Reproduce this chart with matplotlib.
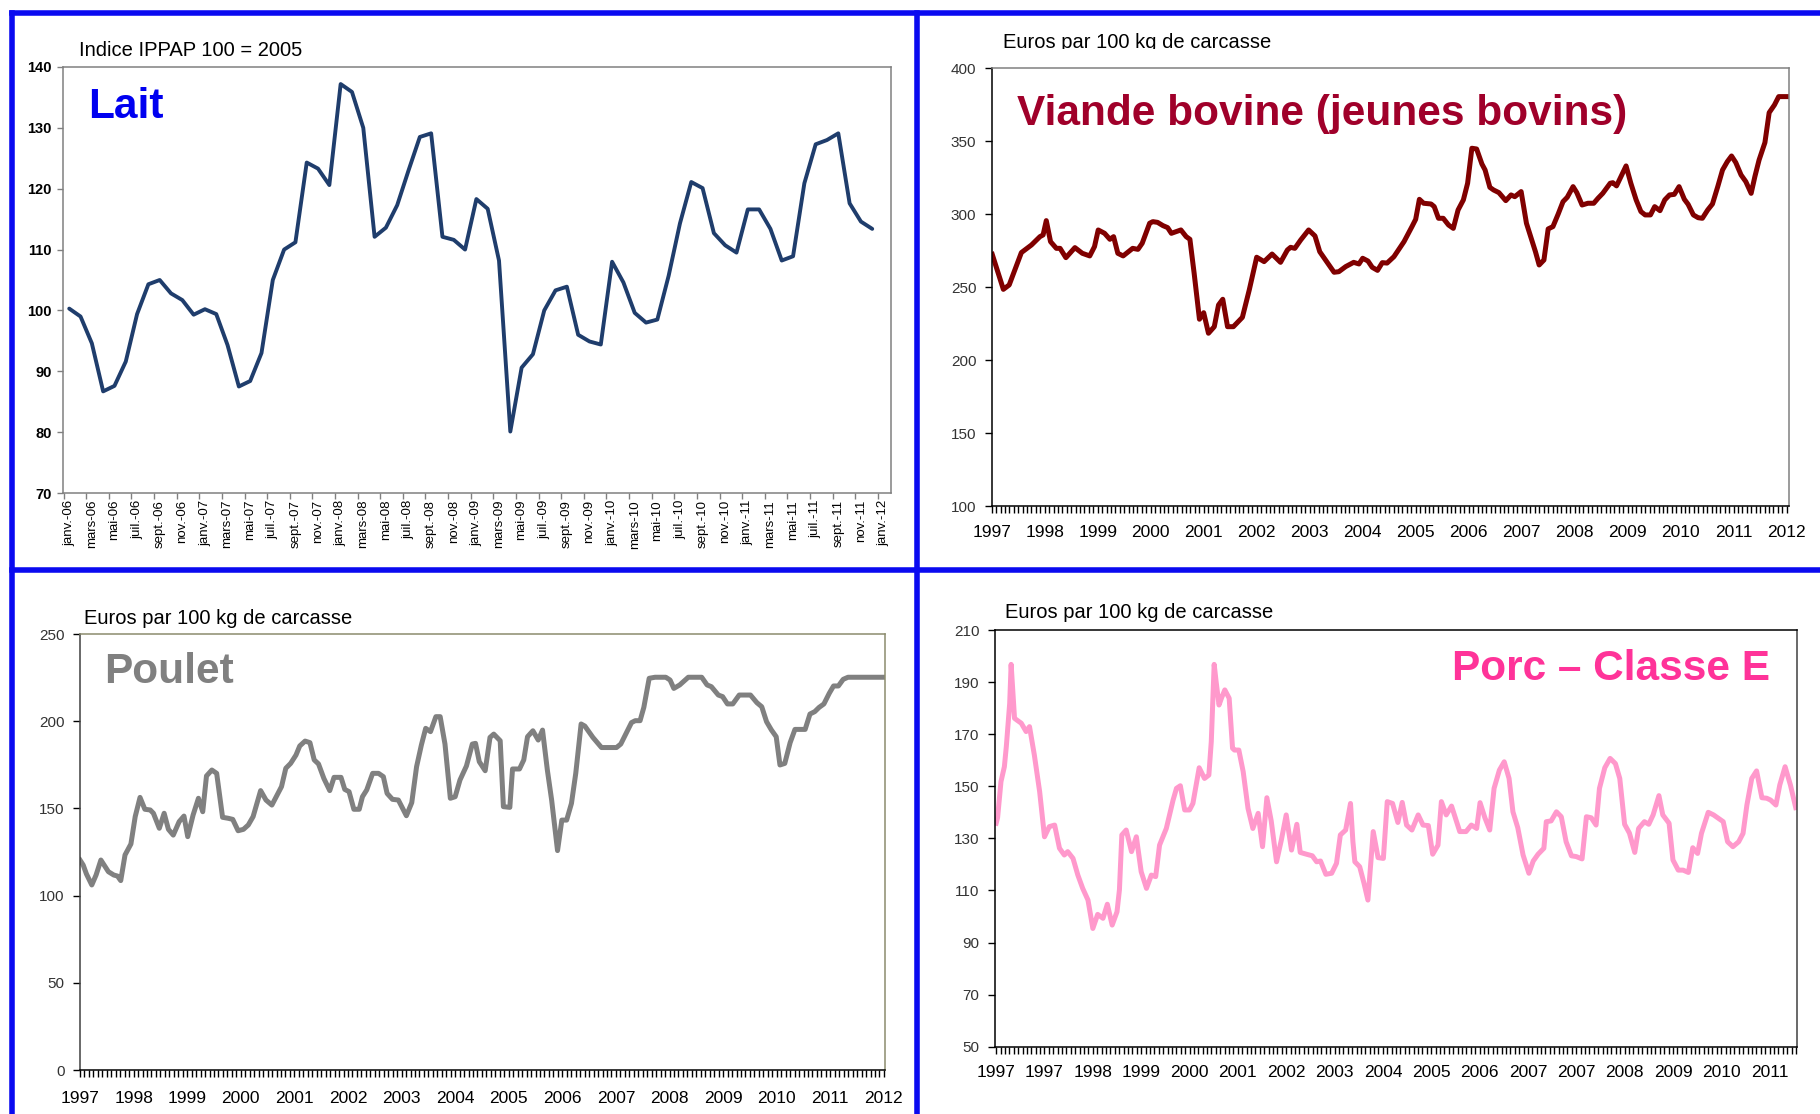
import numpy as np
import matplotlib
matplotlib.use("Agg")
import matplotlib.pyplot as plt
from matplotlib.ticker import MultipleLocator
from matplotlib.lines import Line2D
from matplotlib.patches import Rectangle

plt.rcParams['font.family'] = ['Liberation Sans', 'DejaVu Sans']

# ---- data ----
# Lait: monthly IPPAP index, janv. 2006 -> dec. 2011
lait = [100.3, 99.0, 94.6, 86.7, 87.6, 91.6, 99.4, 104.3, 105.0, 102.8, 101.7, 99.3,
        100.2, 99.4, 94.3, 87.5, 88.4, 93.0, 105.0, 110.0, 111.2, 124.3, 123.3, 120.6,
        137.2, 135.9, 130.0, 112.1, 113.6, 117.3, 123.0, 128.5, 129.1, 112.1, 111.6, 110.0,
        118.3, 116.7, 108.2, 80.1, 90.6, 92.8, 100.0, 103.3, 103.9, 96.0, 94.9, 94.4,
        108.0, 104.6, 99.6, 98.0, 98.5, 105.7, 114.3, 121.1, 120.1, 112.7, 110.7, 109.5,
        116.6, 116.6, 113.4, 108.2, 108.9, 120.9, 127.3, 128.0, 129.1, 117.6, 114.6, 113.4]
lait_months = ["janv.", "mars", "mai", "juil.", "sept.", "nov."]
lait_years = ["06", "07", "08", "09", "10", "11"]

# Viande bovine: years since 1997 / euros
viande_t = [0.01, 0.22, 0.33, 0.56, 0.69, 0.75, 0.91, 0.97, 1.03, 1.11, 1.22, 1.29, 1.40, 1.57,
            1.71, 1.85, 1.94, 2.01, 2.13, 2.23, 2.30, 2.38, 2.48, 2.66, 2.76, 2.84, 2.98, 3.04,
            3.13, 3.23, 3.32, 3.39, 3.57, 3.67, 3.74, 3.82, 3.92, 4.00, 4.09, 4.20, 4.28, 4.36,
            4.45, 4.56, 4.73, 4.86, 5.00, 5.14, 5.29, 5.45, 5.58, 5.64, 5.72, 5.83, 5.98, 6.10,
            6.19, 6.30, 6.46, 6.55, 6.68, 6.83, 6.93, 7.00, 7.10, 7.18, 7.28, 7.37, 7.46, 7.59,
            7.78, 7.93, 8.00, 8.07, 8.15, 8.29, 8.35, 8.43, 8.52, 8.62, 8.71, 8.80, 8.90, 8.98,
            9.06, 9.15, 9.25, 9.31, 9.40, 9.47, 9.57, 9.70, 9.80, 9.87, 9.99, 10.09, 10.20,
            10.26, 10.33, 10.42, 10.50, 10.59, 10.69, 10.78, 10.86, 10.97, 11.04, 11.14, 11.25,
            11.36, 11.44, 11.53, 11.67, 11.72, 11.79, 11.97, 12.06, 12.16, 12.25, 12.33, 12.43,
            12.51, 12.61, 12.70, 12.79, 12.88, 12.97, 13.07, 13.14, 13.24, 13.33, 13.41, 13.51,
            13.60, 13.70, 13.79, 13.88, 13.96, 14.04, 14.14, 14.23, 14.33, 14.40, 14.48, 14.59,
            14.67, 14.77, 14.85, 15.00]
viande_v = [272.5, 248.5, 251.5, 273.7, 277.3, 278.9, 284.6, 285.8, 295.6, 281.2, 276.6, 276.6,
            270.2, 277.1, 273.2, 271.4, 277.8, 289.2, 286.9, 282.8, 284.6, 273.2, 271.4, 276.6,
            275.9, 280.1, 293.8, 294.9, 294.4, 292.2, 290.8, 286.9, 289.2, 284.6, 282.8, 259.5,
            228.0, 232.5, 218.4, 222.9, 237.8, 241.7, 222.9, 222.9, 229.3, 248.1, 270.5, 267.5,
            272.7, 267.0, 275.5, 277.3, 276.6, 282.3, 289.2, 285.1, 274.3, 268.6, 260.2, 260.6,
            264.1, 267.0, 265.9, 269.8, 267.9, 263.6, 261.5, 266.8, 266.5, 270.9, 281.2, 291.5,
            296.5, 310.2, 307.5, 307.0, 305.2, 297.2, 297.2, 292.6, 290.3, 302.9, 309.8, 321.2,
            345.2, 344.7, 334.4, 330.3, 318.4, 316.6, 314.8, 309.3, 313.2, 312.0, 315.5, 293.8,
            281.2, 274.3, 265.2, 268.6, 289.9, 291.5, 300.2, 308.6, 311.6, 318.9, 314.8, 306.3,
            307.5, 307.5, 310.9, 314.3, 321.2, 321.6, 319.4, 333.1, 321.2, 309.8, 301.8, 299.5,
            299.5, 305.2, 302.4, 309.8, 313.2, 313.6, 318.9, 310.2, 306.8, 299.5, 297.6, 297.2,
            302.9, 307.0, 318.9, 330.3, 336.0, 339.9, 335.4, 326.9, 322.3, 314.3, 325.7, 337.2,
            349.1, 369.6, 374.9, 380.6, 380.6]

# Poulet: years since 1997 / euros
poulet_t = [0.00, 0.06, 0.12, 0.22, 0.30, 0.39, 0.47, 0.53, 0.63, 0.70, 0.76, 0.84, 0.95, 1.03,
            1.12, 1.21, 1.31, 1.37, 1.48, 1.57, 1.65, 1.74, 1.85, 1.94, 2.01, 2.11, 2.21, 2.29,
            2.36, 2.46, 2.55, 2.66, 2.77, 2.85, 2.95, 3.05, 3.14, 3.23, 3.37, 3.47, 3.58, 3.70,
            3.76, 3.84, 3.93, 4.03, 4.10, 4.20, 4.29, 4.37, 4.45, 4.55, 4.66, 4.74, 4.87, 4.94,
            5.02, 5.11, 5.21, 5.27, 5.35, 5.46, 5.57, 5.66, 5.73, 5.83, 5.94, 6.09, 6.19, 6.28,
            6.37, 6.45, 6.54, 6.64, 6.72, 6.81, 6.91, 7.00, 7.09, 7.21, 7.32, 7.38, 7.45, 7.56,
            7.65, 7.72, 7.84, 7.90, 8.02, 8.07, 8.20, 8.28, 8.35, 8.45, 8.55, 8.63, 8.72, 8.80,
            8.91, 8.99, 9.08, 9.17, 9.25, 9.35, 9.42, 9.57, 9.73, 10.01, 10.09, 10.19, 10.29,
            10.36, 10.45, 10.52, 10.62, 10.73, 10.93, 11.01, 11.08, 11.19, 11.35, 11.60, 11.70,
            11.78, 11.91, 11.99, 12.08, 12.18, 12.30, 12.51, 12.63, 12.72, 12.81, 12.90, 12.99,
            13.06, 13.15, 13.25, 13.34, 13.53, 13.62, 13.71, 13.79, 13.88, 13.98, 14.06, 14.15,
            14.24, 14.33, 15.00]
poulet_v = [120.4, 117.5, 112.4, 106.1, 111.8, 120.4, 116.6, 113.7, 111.8, 111.2, 108.6, 123.3,
            129.6, 145.3, 156.3, 149.5, 149.1, 147.2, 138.6, 147.2, 138.0, 134.7, 142.4, 145.6,
            133.8, 146.2, 155.8, 148.1, 168.6, 172.0, 170.1, 144.9, 144.3, 143.7, 137.2, 138.0,
            140.5, 145.3, 160.2, 154.8, 151.9, 159.0, 162.5, 173.0, 175.8, 180.6, 185.8, 188.6,
            187.7, 177.8, 175.5, 167.2, 160.2, 167.8, 167.8, 160.9, 159.6, 149.5, 149.5, 156.7,
            160.6, 170.1, 170.1, 168.2, 158.6, 155.2, 154.8, 145.8, 153.3, 173.9, 186.4, 195.9,
            194.0, 202.6, 202.6, 186.9, 155.8, 156.7, 166.3, 174.3, 186.9, 187.3, 176.8, 171.6,
            190.7, 192.6, 188.8, 151.0, 150.6, 172.6, 172.6, 177.8, 191.1, 194.5, 189.2, 194.9,
            172.0, 154.8, 125.8, 143.3, 143.3, 152.9, 170.1, 198.4, 197.2, 190.7, 184.9, 184.9,
            186.9, 193.0, 199.2, 200.3, 200.3, 207.9, 224.6, 225.2, 225.2, 223.6, 218.8, 220.8,
            225.2, 225.2, 220.8, 219.8, 215.0, 214.1, 209.9, 209.9, 215.0, 215.0, 210.6, 208.3,
            199.7, 195.0, 191.1, 174.9, 175.8, 187.7, 195.3, 195.3, 204.1, 205.5, 207.9, 209.9,
            216.0, 220.2, 220.2, 224.0, 225.2, 225.2]

# Porc: position in label intervals / euros
porc_t = [0.00, 0.03, 0.10, 0.17, 0.21, 0.28, 0.31, 0.35, 0.38, 0.43, 0.52, 0.62, 0.69, 0.79,
          0.90, 1.00, 1.10, 1.21, 1.31, 1.41, 1.48, 1.59, 1.69, 1.79, 1.90, 2.00, 2.10, 2.21,
          2.30, 2.40, 2.50, 2.55, 2.60, 2.69, 2.80, 2.90, 3.00, 3.11, 3.21, 3.30, 3.38, 3.52,
          3.66, 3.73, 3.81, 3.90, 4.00, 4.07, 4.20, 4.31, 4.40, 4.45, 4.51, 4.55, 4.61, 4.66,
          4.73, 4.82, 4.89, 4.93, 5.02, 5.11, 5.21, 5.31, 5.42, 5.51, 5.60, 5.69, 5.80, 5.90,
          6.00, 6.11, 6.22, 6.29, 6.42, 6.54, 6.63, 6.71, 6.82, 6.94, 7.04, 7.12, 7.23, 7.33,
          7.38, 7.42, 7.52, 7.61, 7.69, 7.80, 7.90, 8.01, 8.09, 8.20, 8.31, 8.40, 8.49, 8.60,
          8.73, 8.83, 8.94, 9.03, 9.14, 9.21, 9.31, 9.42, 9.59, 9.72, 9.83, 9.94, 10.01, 10.11,
          10.21, 10.30, 10.41, 10.51, 10.61, 10.69, 10.79, 10.90, 11.02, 11.11, 11.21, 11.33,
          11.38, 11.48, 11.59, 11.69, 11.79, 11.90, 12.00, 12.12, 12.21, 12.31, 12.41, 12.48,
          12.59, 12.70, 12.81, 12.90, 13.00, 13.10, 13.21, 13.29, 13.41, 13.50, 13.59, 13.71,
          13.79, 13.92, 14.00, 14.11, 14.21, 14.32, 14.41, 14.51, 14.59, 14.73, 14.84, 15.04,
          15.13, 15.24, 15.36, 15.45, 15.53, 15.63, 15.73, 15.84, 15.94, 16.02, 16.13, 16.21,
          16.32, 16.43, 16.54]
porc_v = [135.8, 138.0, 151.8, 157.5, 165.2, 181.8, 196.8, 185.0, 176.1, 175.4, 174.2, 171.0,
          172.9, 162.0, 147.9, 130.6, 134.5, 135.1, 126.2, 123.6, 124.9, 122.3, 115.9, 110.8,
          106.3, 95.4, 100.8, 99.3, 104.7, 96.7, 101.8, 110.2, 131.3, 133.2, 124.9, 130.6,
          117.2, 110.8, 115.9, 115.3, 127.4, 133.8, 144.7, 149.2, 150.2, 140.9, 140.9, 143.4,
          157.1, 153.0, 154.3, 167.1, 196.8, 190.2, 181.2, 183.8, 187.0, 183.8, 164.6, 163.9,
          163.9, 155.6, 141.5, 133.8, 139.6, 126.8, 145.6, 136.7, 121.0, 129.4, 139.0, 125.5,
          135.4, 124.6, 123.9, 123.3, 121.0, 121.3, 116.2, 116.6, 120.4, 131.3, 133.2, 143.4,
          128.7, 121.0, 119.1, 112.7, 106.3, 132.6, 122.6, 122.3, 144.1, 143.4, 136.1, 143.8,
          135.1, 133.2, 139.0, 135.1, 134.9, 123.9, 127.4, 144.1, 139.0, 142.4, 132.6, 132.6,
          135.1, 133.8, 143.7, 137.9, 133.2, 149.2, 156.2, 159.4, 153.0, 140.2, 134.1, 123.6,
          116.6, 121.3, 123.9, 126.2, 136.4, 136.7, 140.2, 138.3, 128.7, 123.3, 123.0, 122.1,
          138.3, 137.9, 135.1, 149.2, 157.1, 160.7, 158.7, 153.0, 135.4, 132.0, 124.6, 133.8,
          136.4, 135.4, 139.0, 146.4, 139.0, 135.8, 121.7, 117.8, 117.8, 116.9, 126.4, 124.2,
          131.9, 140.0, 139.0, 136.4, 128.7, 126.8, 128.7, 131.9, 142.8, 153.0, 155.9, 145.6,
          145.4, 144.7, 142.8, 150.5, 157.5, 150.5, 141.8]

year_labels = [str(y) for y in range(1997, 2013)]
porc_labels = ["1997", "1997", "1998", "1999", "2000", "2001", "2002", "2003", "2004",
               "2005", "2006", "2007", "2007", "2008", "2009", "2010", "2011"]

W, H = 1820, 1114
fig = plt.figure(figsize=(W / 100, H / 100), dpi=100)
fig.patch.set_facecolor('white')


def box(l, t, r, b):
    return [l / W, 1 - b / H, (r - l) / W, (b - t) / H]


def ftext(x, y, s, **kw):
    fig.text(x / W, 1 - y / H, s, va='baseline', ha='left', **kw)


def style_spines(ax, colors):
    for side, c in zip(['left', 'bottom', 'top', 'right'], colors):
        ax.spines[side].set_color(c)
        ax.spines[side].set_linewidth(1.1)


# ---- Lait ----
ax = fig.add_axes(box(63, 67, 891, 493))
ax.plot(np.arange(len(lait)), lait, color='#1F3D6C', lw=2.8, solid_joinstyle='round',
        solid_capstyle='round')
ax.set_xlim(-0.55, 72.66)
ax.set_ylim(70, 140)
ax.set_yticks(range(70, 141, 10))
ax.tick_params(axis='y', direction='out', length=4, width=1, color='#808080',
               labelsize=10.5, pad=4)
for lab in ax.get_yticklabels():
    lab.set_fontweight('bold')
lab_text = [m + "-" + y for y in lait_years for m in lait_months] + ["janv.-12"]
ax.set_xticks(np.arange(-0.5, 72, 2))
ax.set_xticklabels([])
ax.set_xticks(np.arange(0, 73, 2), labels=lab_text, minor=True)
ax.tick_params(axis='x', which='major', direction='out', length=4, width=1, color='#808080')
ax.tick_params(axis='x', which='minor', length=0, labelsize=9.5, labelrotation=90, pad=5)
style_spines(ax, ['#808080'] * 4)
ftext(79, 56, "Indice IPPAP 100 = 2005", fontsize=14.5, color='black')
ftext(88, 118, "Lait", fontsize=30.5, fontweight='bold', color='#0000F0')

# ---- Viande bovine ----
ax = fig.add_axes(box(991.7, 68.3, 1789.3, 506))
ax.plot(viande_t, viande_v, color='#800000', lw=3.6, solid_joinstyle='round')
ax.set_xlim(0, 15.05)
ax.set_ylim(100, 400)
ax.set_yticks(range(100, 401, 50))
ax.set_xticks(range(16), labels=year_labels)
ax.xaxis.set_minor_locator(MultipleLocator(1 / 12))
ax.tick_params(axis='x', which='both', direction='out', length=5, width=1, labelsize=12.5,
               pad=9)
ax.tick_params(axis='y', direction='out', length=5, width=1, labelsize=11, pad=6,
               labelcolor='#333333')
style_spines(ax, ['black', 'black', '#808080', '#808080'])
ftext(1003, 48, "Euros par 100 kg de carcasse", fontsize=14.5, color='black')
ftext(1017, 125, "Viande bovine (jeunes bovins)", fontsize=30.5, fontweight='bold',
      color='#A0002A')
fig.add_artist(Rectangle((995 / W, 1 - 62 / H), 340 / W, 13 / H, transform=fig.transFigure,
                         facecolor='white', edgecolor='none', zorder=5))

# ---- Poulet ----
ax = fig.add_axes(box(80, 634, 885, 1070))
ax.plot(poulet_t, poulet_v, color='#808080', lw=3.6, solid_joinstyle='round')
ax.set_xlim(0, 15.02)
ax.set_ylim(0, 250)
ax.set_yticks(range(0, 251, 50))
ax.set_xticks(range(16), labels=year_labels)
ax.xaxis.set_minor_locator(MultipleLocator(1 / 12))
ax.tick_params(axis='x', which='both', direction='out', length=5, width=1, labelsize=12.5,
               pad=10)
ax.tick_params(axis='y', direction='out', length=5, width=1, labelsize=11, pad=6,
               labelcolor='#333333')
style_spines(ax, ['#404040', 'black', '#8C8C6E', '#8C8C6E'])
ftext(84, 624, "Euros par 100 kg de carcasse", fontsize=14.5, color='black')
ftext(104, 683, "Poulet", fontsize=30.5, fontweight='bold', color='#808080')

# ---- Porc ----
ax = fig.add_axes(box(994.7, 630, 1796.7, 1046.7))
ax.plot(porc_t, porc_v, color='#FF99CC', lw=3.6, solid_joinstyle='round')
ax.set_xlim(-0.03, 16.56)
ax.set_ylim(50, 210)
ax.set_yticks(range(50, 211, 20))
ax.set_xticks(range(len(porc_labels)), labels=porc_labels)
ax.xaxis.set_minor_locator(MultipleLocator(1 / 11))
ax.tick_params(axis='x', which='both', direction='out', length=5, width=1, labelsize=12.5,
               pad=8)
ax.tick_params(axis='y', direction='out', length=5, width=1, labelsize=11, pad=6,
               labelcolor='#333333')
style_spines(ax, ['black', 'black', 'black', '#404040'])
ftext(1005, 618, "Euros par 100 kg de carcasse", fontsize=14.5, color='black')
ftext(1452, 680, "Porc – Classe E", fontsize=30.5, fontweight='bold', color='#FF3399')

# ---- blue panel frames ----
blue = '#0A0AF0'


def seg(x0, y0, x1, y1):
    fig.add_artist(Line2D([x0 / W, x1 / W], [1 - y0 / H, 1 - y1 / H], color=blue, lw=4,
                          solid_capstyle='projecting'))


seg(12, 13, W + 5, 13)
seg(12, 570, W + 5, 570)
seg(12, 13, 12, H + 5)
seg(917, 13, 917, H + 5)

fig.savefig("out.png", dpi=100, facecolor='white')
